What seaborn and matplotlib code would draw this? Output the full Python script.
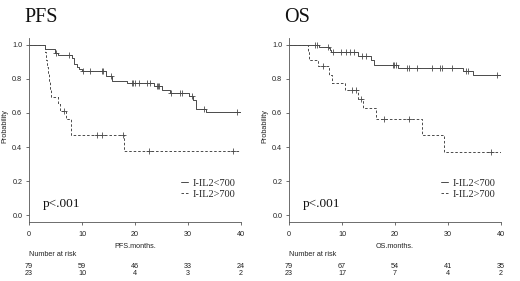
import numpy as np
import pandas as pd
import matplotlib
matplotlib.use("Agg")
import matplotlib.pyplot as plt
import seaborn as sns
from matplotlib.transforms import blended_transform_factory
from matplotlib.lines import Line2D

# ---------------- data ----------------
groups = ["I-IL2<700", "I-IL2>700"]

pfs_lo_time = [0, 3.0, 4.9, 5.4, 8.05, 8.55, 9.0, 9.45, 9.95, 14.6, 15.7, 18.5, 23.5, 25.0, 26.6, 30.1, 31.0, 31.5, 33.4, 40]
pfs_lo_surv = [1.0, 0.975, 0.953, 0.94, 0.92, 0.888, 0.87, 0.86, 0.845, 0.815, 0.79, 0.776, 0.76, 0.737, 0.718, 0.698, 0.678, 0.625, 0.606, 0.606]
pfs_lo_cens = [5.1, 7.5, 10.1, 11.5, 13.7, 14.0, 15.4, 19.4, 19.7, 20.0, 20.8, 22.2, 22.8, 24.1, 24.4, 24.6, 26.7, 28.4, 28.8, 30.7, 33.0, 39.2]

pfs_hi_time = [0, 3.0, 3.2, 3.4, 3.6, 3.8, 4.0, 4.15, 5.5, 5.85, 6.9, 7.9, 18.0, 40]
pfs_hi_surv = [1.0, 0.957, 0.913, 0.870, 0.826, 0.783, 0.739, 0.696, 0.652, 0.609, 0.565, 0.47, 0.376, 0.376]
pfs_hi_cens = [6.6, 12.9, 13.8, 17.8, 22.6, 38.4]

os_lo_time = [0, 5.7, 7.5, 7.7, 7.9, 13.1, 15.5, 16.1, 20.5, 32.9, 34.7, 40]
os_lo_surv = [1.0, 0.99, 0.98, 0.97, 0.96, 0.934, 0.912, 0.884, 0.865, 0.849, 0.822, 0.822]
os_lo_cens = [4.9, 5.2, 7.4, 8.3, 9.9, 10.8, 11.5, 12.3, 13.7, 14.6, 19.6, 19.8, 20.1, 22.3, 22.6, 24.2, 26.9, 28.5, 28.8, 30.7, 33.4, 33.8, 39.2]

os_hi_time = [0, 3.6, 3.75, 5.5, 7.55, 8.05, 10.6, 13.1, 14.0, 16.5, 25.1, 29.2, 40]
os_hi_surv = [1.0, 0.96, 0.912, 0.873, 0.824, 0.778, 0.735, 0.68, 0.627, 0.563, 0.468, 0.372, 0.372]
os_hi_cens = [6.5, 11.8, 12.6, 13.6, 17.9, 22.7, 38.2]

risk_times = [0, 10, 20, 30, 40]
pfs_risk_lo = [79, 59, 46, 33, 24]
pfs_risk_hi = [23, 10, 4, 3, 2]
os_risk_lo = [79, 67, 54, 41, 35]
os_risk_hi = [23, 17, 7, 4, 2]

y_ticks = [0.0, 0.2, 0.4, 0.6, 0.8, 1.0]

# ---------------- style ----------------
sns.set_style("ticks")
plt.rcParams["font.family"] = ["Liberation Sans", "DejaVu Sans"]
SERIF = ["Liberation Serif", "DejaVu Serif"]
LINE_C = "#4a4a4a"
AX_C = "#555555"
DASH = (0, (2.6, 2.0))

W, H = 520, 281
fig = plt.figure(figsize=(W / 100, H / 100), dpi=100)
fig.patch.set_facecolor("white")


def add_ax(left, top, right, bottom):
    return fig.add_axes([left / W, 1 - bottom / H, (right - left) / W, (bottom - top) / H])


def step_at(times, surv, c):
    idx = np.searchsorted(np.asarray(times), np.asarray(c), side="right") - 1
    return np.asarray(surv)[idx]


def panel(left_px, title, xlab, lo, hi, risk_lo, risk_hi):
    ax = add_ax(left_px, 38, left_px + 212, 222)
    ax.set_facecolor("white")
    for (t, s, c), ls in ((lo, "-"), (hi, DASH)):
        df = pd.DataFrame({"t": t, "s": s})
        sns.lineplot(data=df, x="t", y="s", ax=ax, drawstyle="steps-post", estimator=None,
                     sort=False, color=LINE_C, lw=0.7, linestyle=ls, legend=False)
        cdf = pd.DataFrame({"t": c, "s": step_at(t, s, c)})
        sns.scatterplot(data=cdf, x="t", y="s", ax=ax, marker="+", s=15, color=LINE_C,
                        linewidth=0.6, legend=False, zorder=3)
    ax.set_xlim(0, 40)
    ax.set_ylim(-0.04, 1.04)
    ax.set_xticks(risk_times)
    ax.set_yticks(y_ticks)
    ax.set_yticklabels([f"{v:.1f}" for v in y_ticks])
    ax.set_xlabel("")
    ax.set_ylabel("")
    for sp in ("top", "right"):
        ax.spines[sp].set_visible(False)
    for sp in ("left", "bottom"):
        ax.spines[sp].set_color(AX_C)
        ax.spines[sp].set_linewidth(0.6)
    ax.tick_params(axis="both", labelsize=5.2, colors=AX_C, labelcolor="#222222",
                   length=2.3, width=0.6)
    ax.tick_params(axis="y", pad=2.5)
    ax.tick_params(axis="x", pad=4.2)

    handles = [Line2D([], [], color=LINE_C, lw=0.7, linestyle="-"),
               Line2D([], [], color=LINE_C, lw=0.7, linestyle=DASH)]
    ax.legend(handles, groups, loc="upper left",
              bbox_to_anchor=((left_px + 152) / W, 1 - 178.5 / H), bbox_transform=fig.transFigure,
              frameon=False, borderpad=0, borderaxespad=0, handlelength=0.7,
              handletextpad=0.4, labelspacing=0.15, prop={"family": SERIF, "size": 7.5})

    fig.text((left_px + 14) / W, 1 - 204 / H, "p<.001", family=SERIF, fontsize=9.5,
             va="center", ha="left", color="#111111")
    fig.text((left_px - 5) / W, 1 - 18 / H, title, family=SERIF, fontsize=14.5,
             va="center", ha="left", color="#111111")
    fig.text((left_px + 106) / W, 1 - 247 / H, xlab, fontsize=5.2, ha="center", va="center",
             color="#222222")
    fig.text((left_px - 24) / W, 1 - 126 / H, "Probability", fontsize=5.2, rotation=90,
             ha="center", va="center", color="#222222")
    fig.text(left_px / W, 1 - 254.5 / H, "Number at risk", fontsize=5.2, ha="left",
             va="center", color="#222222")
    tr = blended_transform_factory(ax.transData, fig.transFigure)
    for xv, a, b in zip(risk_times, risk_lo, risk_hi):
        ax.text(xv, 1 - 266 / H, str(a), transform=tr, fontsize=5.2, ha="center",
                va="center", color="#222222", clip_on=False)
        ax.text(xv, 1 - 273.5 / H, str(b), transform=tr, fontsize=5.2, ha="center",
                va="center", color="#222222", clip_on=False)
    return ax


panel(29, "PFS", "PFS.months.",
      (pfs_lo_time, pfs_lo_surv, pfs_lo_cens), (pfs_hi_time, pfs_hi_surv, pfs_hi_cens),
      pfs_risk_lo, pfs_risk_hi)
panel(289, "OS", "OS.months.",
      (os_lo_time, os_lo_surv, os_lo_cens), (os_hi_time, os_hi_surv, os_hi_cens),
      os_risk_lo, os_risk_hi)

fig.savefig("out.png", dpi=100, facecolor="white")
